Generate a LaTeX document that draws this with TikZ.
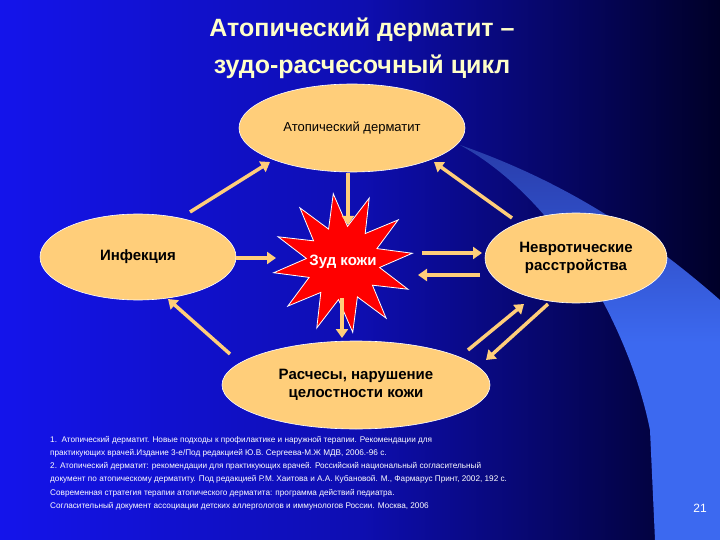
\documentclass[tikz,border=0pt]{standalone}
\usepackage{fontspec}
\setmainfont{Liberation Sans}
\usetikzlibrary{shapes.geometric,shapes.misc,arrows.meta}
\definecolor{ell}{RGB}{255,206,122}
\definecolor{ttl}{RGB}{255,255,200}
\definecolor{bgl}{RGB}{20,20,235}
\definecolor{bgr}{RGB}{0,0,40}
\definecolor{swoosh}{RGB}{60,105,240}
\definecolor{swdim}{RGB}{40,60,170}
\begin{document}
\begin{tikzpicture}[x=1pt,y=-1pt,
  el/.style={ellipse,fill=ell,draw=white,line width=0.6pt,inner sep=0pt,align=center,font=\bfseries},
  arr/.style={draw=ell,line width=3.5pt,-{Triangle[length=9pt,width=12pt]}},
  ttlst/.style={text=ttl,font=\bfseries\fontsize{25}{30}\selectfont}]
\useasboundingbox (0,0) rectangle (720,540);
\shade[left color=bgl,right color=bgr,middle color=bgl!70!bgr] (0,0) rectangle (720,540);
\shade[top color=swdim,bottom color=swoosh,middle color=swoosh] (460,145) .. controls (560,200) and (630,330) .. (650,430) -- (655,540) -- (720,540) -- (720,300) .. controls (640,230) and (560,180) .. (460,145);
\node[ttlst] (t1) at (362,30) {Атопический дерматит –};
\node[ttlst] (t2) at (362,67) {зудо-расчесочный цикл};
\node[el,minimum width=226pt,minimum height=88pt,font=\fontsize{13}{15}\selectfont] (top) at (352,128) {Атопический дерматит};
\node[el,minimum width=196pt,minimum height=86pt,font=\bfseries\fontsize{15}{18}\selectfont] (inf) at (138,257) {Инфекция};
\node[el,minimum width=182pt,minimum height=90pt,font=\bfseries\fontsize{15}{18}\selectfont] (nev) at (576,258) {Невротические\\расстройства};
\node[el,minimum width=268pt,minimum height=88pt,font=\bfseries\fontsize{15}{18}\selectfont] (bot) at (356,385) {Расчесы, нарушение\\целостности кожи};
\node[star,star points=12,star point ratio=1.9,fill=red,draw=white,line width=0.8pt,minimum width=140pt,minimum height=118pt,inner sep=0pt,rotate=8] (star) at (343,263) {};
\node[text=white,font=\bfseries\fontsize{15}{18}\selectfont] (zud) at (343,262) {Зуд кожи};
\coordinate (a1) at (348,173); \coordinate (a2) at (348,225);
\draw[arr] (a1) -- (a2);
\coordinate (b1) at (236,258); \coordinate (b2) at (276,258);
\draw[arr] (b1) -- (b2);
\coordinate (c1) at (422,253); \coordinate (c2) at (482,253);
\draw[arr] (c1) -- (c2);
\coordinate (d1) at (480,275); \coordinate (d2) at (418,275);
\draw[arr] (d1) -- (d2);
\coordinate (e1) at (342,298); \coordinate (e2) at (342,338);
\draw[arr] (e1) -- (e2);
\coordinate (f1) at (230,354); \coordinate (f2) at (168,299);
\draw[arr] (f1) -- (f2);
\coordinate (g1) at (190,212); \coordinate (g2) at (270,162);
\draw[arr] (g1) -- (g2);
\coordinate (h1) at (512,218); \coordinate (h2) at (434,162);
\draw[arr] (h1) -- (h2);
\coordinate (i1) at (468,350); \coordinate (i2) at (524,304);
\draw[arr] (i1) -- (i2);
\coordinate (j1) at (548,304); \coordinate (j2) at (486,360);
\draw[arr] (j1) -- (j2);
\node[anchor=north west,text=white,align=left,font=\fontsize{8.2}{13.2}\selectfont,inner sep=0pt] (refs) at (50,436) {1.\ \ Атопический дерматит. Новые подходы к профилактике и наружной терапии. Рекомендации для\\практикующих врачей.Издание 3-е/Под редакцией Ю.В. Сергеева-М.Ж МДВ, 2006.-96 с.\\2. Атопический дерматит: рекомендации для практикующих врачей. Российский национальный согласительный\\документ по атопическому дерматиту. Под редакцией Р.М. Хаитова и А.А. Кубановой. М., Фармарус Принт, 2002, 192 с.\\Современная стратегия терапии атопического дерматита: программа действий педиатра.\\Согласительный документ ассоциации детских аллергологов и иммунологов России. Москва, 2006};
\node[text=white,font=\fontsize{12}{14}\selectfont] (num) at (700,508) {21};
\end{tikzpicture}
\end{document}
